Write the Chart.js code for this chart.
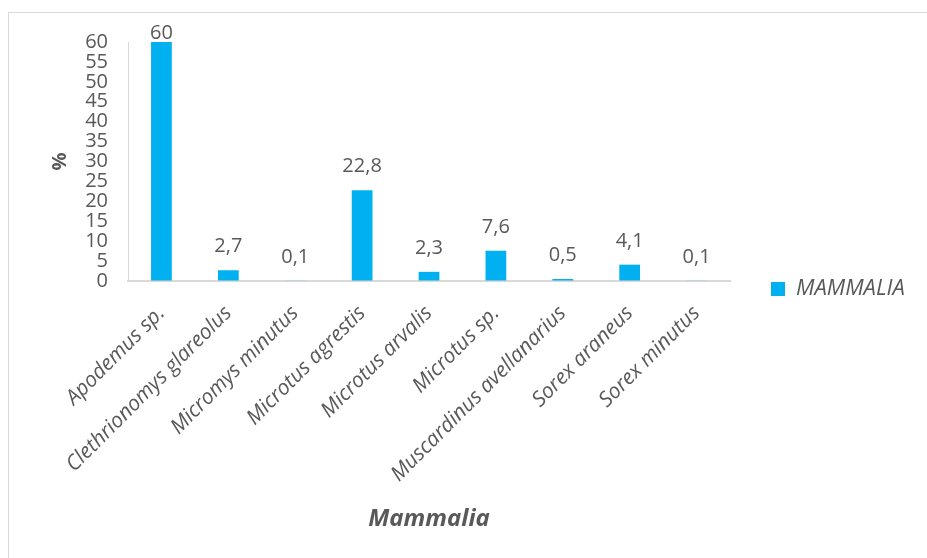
<!DOCTYPE html>
<html>
<head>
<meta charset="utf-8">
<script src="https://cdn.jsdelivr.net/npm/chart.js@4"></script>
<style>
  html, body { margin: 0; padding: 0; background: #ffffff; overflow: hidden; }
  #frame { position: absolute; left: 8px; top: 12px; width: 1000px; height: 700px;
           border-left: 1px solid #d9d9d9; border-top: 1px solid #d9d9d9; }
  #wrap { position: absolute; left: 0; top: 0; width: 927px; height: 558px; }
</style>
</head>
<body>
<div id="frame"></div>
<div id="wrap"><canvas id="chart" width="927" height="558"></canvas></div>
<script>
// Share of each small-mammal taxon (%)
const categories = [
  'Apodemus sp.',
  'Clethrionomys glareolus',
  'Micromys minutus',
  'Microtus agrestis',
  'Microtus arvalis',
  'Microtus sp.',
  'Muscardinus avellanarius',
  'Sorex araneus',
  'Sorex minutus'
];
const values = [60, 2.7, 0.1, 22.8, 2.3, 7.6, 0.5, 4.1, 0.1];
const seriesName = 'MAMMALIA';
const yMin = 0;
const yMax = 60;
const yStep = 5;
const xTitle = 'Mammalia';
const yTitle = '%';

const textColor = '#595959';
const lineColor = '#d9d9d9';
const barColor = '#00b0f0';
const family = '"Open Sans", "Noto Sans", sans-serif';
const legendWidth = 197;

// Value labels above each bar, written with a decimal comma
const valueLabels = {
  id: 'valueLabels',
  afterDatasetsDraw(chart) {
    const { ctx, chartArea } = chart;
    const meta = chart.getDatasetMeta(0);
    const data = chart.data.datasets[0].data;
    ctx.save();
    ctx.font = '20px ' + family;
    ctx.fillStyle = textColor;
    ctx.textAlign = 'center';
    ctx.textBaseline = 'alphabetic';
    meta.data.forEach((bar, i) => {
      const txt = String(data[i]).replace('.', ',');
      const y = Math.max(bar.y - 18, chartArea.top - 3);
      ctx.fillText(txt, bar.x, y);
    });
    ctx.restore();
  }
};

// Give the side legend a fixed width so the plot keeps its right edge
const legendWidthFix = {
  id: 'legendWidthFix',
  beforeLayout(chart) {
    const lg = chart.legend;
    if (lg && !lg.__fixedWidth) {
      const fit = lg.fit.bind(lg);
      lg.fit = function () { fit(); this.width = legendWidth; };
      lg.__fixedWidth = true;
    }
  }
};

new Chart(document.getElementById('chart'), {
  type: 'bar',
  data: {
    labels: categories,
    datasets: [{
      label: seriesName,
      data: values,
      backgroundColor: barColor,
      borderWidth: 0,
      categoryPercentage: 1,
      barPercentage: 0.31
    }]
  },
  options: {
    responsive: false,
    animation: false,
    devicePixelRatio: 1,
    layout: { padding: { top: 42, left: 8, right: 0, bottom: 22 } },
    plugins: {
      tooltip: { enabled: false },
      legend: {
        position: 'right',
        labels: {
          boxWidth: 14,
          boxHeight: 14,
          padding: 41,
          color: textColor,
          font: { family, size: 22, style: 'italic' }
        }
      }
    },
    scales: {
      x: {
        grid: { display: true, drawOnChartArea: false, drawTicks: false, color: 'rgba(0,0,0,0)' },
        border: { display: true, color: lineColor, width: 2 },
        ticks: {
          autoSkip: false,
          minRotation: 45,
          maxRotation: 45,
          padding: 20,
          color: textColor,
          font: { family, size: 21, style: 'italic' }
        },
        title: {
          display: true,
          text: xTitle,
          color: textColor,
          font: { family, size: 24, style: 'italic', weight: 'bold' },
          padding: { top: 0, bottom: 2 }
        },
        afterFit(scale) { scale.height = 255; }
      },
      y: {
        min: yMin,
        max: yMax,
        grid: { display: true, drawOnChartArea: false, drawTicks: false, color: 'rgba(0,0,0,0)' },
        border: { display: true, color: lineColor, width: 1 },
        ticks: {
          stepSize: yStep,
          autoSkip: false,
          padding: 20,
          color: textColor,
          font: { family, size: 20 }
        },
        title: {
          display: true,
          text: yTitle,
          color: textColor,
          font: { family, size: 20, weight: 'bold' },
          padding: { top: 40, bottom: 0 }
        },
        afterFit(scale) { scale.width = 120; }
      }
    }
  },
  plugins: [valueLabels, legendWidthFix]
});
</script>
</body>
</html>
